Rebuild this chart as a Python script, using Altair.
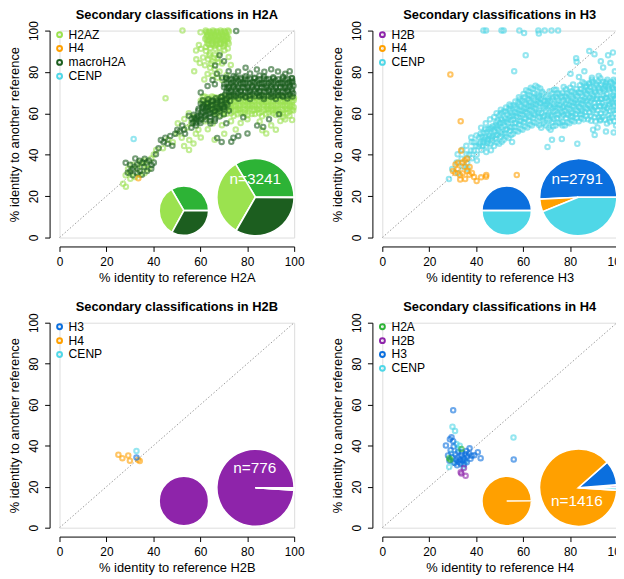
import math
import altair as alt
import pandas as pd

FONT = "Liberation Sans"

COL = {
    "H2A": "#2db336",
    "H2AZ": "#9be24f",
    "macroH2A": "#1c5e1f",
    "H2B": "#8e24aa",
    "H3": "#0b6fde",
    "H4": "#ffa000",
    "CENP": "#4fd7e7",
}

PANELS = ["H2A", "H3", "H2B", "H4"]
LEGEND_ORDER = {
    "H2A": ["H2AZ", "H4", "macroH2A", "CENP"],
    "H3": ["H2B", "H4", "CENP"],
    "H2B": ["H3", "H4", "CENP"],
    "H4": ["H2A", "H2B", "H3", "CENP"],
}
N_TOTAL = {"H2A": 3241, "H3": 2791, "H2B": 776, "H4": 1416}
N_LABEL_POS = {"H2A": (83.4, 28.2), "H3": (83.1, 28.5), "H2B": (83.2, 29.2), "H4": (82.9, 12.8)}
PIE_SMALL_CENTER = (53.0, 13.0)
PIE_BIG_CENTER = (83.5, 19.5)
TICKS = [0, 20, 40, 60, 80, 100]

# ---- H2A panel points ----
H2A_H2AZ = [
    (62.3,100),(63.8,99.6),(65.4,100),(67.1,99.7),(68.6,100),(70.2,99.8),(71.8,100),
    (62.9,98.1),(64.6,97.8),(66.3,98.4),(67.9,97.6),(69.5,98.2),(71.0,97.4),
    (62.1,96.0),(63.7,95.6),(65.5,96.3),(67.2,95.4),(68.8,96.1),(70.4,95.2),
    (63.0,93.8),(64.8,93.2),(66.6,94.0),(68.3,93.5),(70.0,93.9),(71.6,94.6),
    (63.1,99.0),(65.0,98.9),(66.9,99.1),(68.9,98.8),(70.8,99.2),(62.6,97.0),(64.4,96.8),
    (66.0,97.1),(67.7,96.9),(69.3,97.0),(71.2,96.6),(63.4,95.0),(65.1,94.8),(66.9,95.1),
    (68.6,94.7),(70.3,95.0),(72.0,96.2),(62.4,92.1),(64.3,91.6),(66.1,92.5),(68.1,91.8),
    (69.9,92.3),(71.7,91.4),
    (62.5,99.3),(64.2,99.1),(65.8,99.4),(67.5,99.0),(69.1,99.3),(70.7,98.9),(72.2,99.5),
    (63.3,97.5),(64.9,97.2),(66.6,97.6),(68.2,97.3),(69.9,97.7),(71.5,97.1),(62.8,95.3),
    (64.5,95.9),(66.2,95.5),(67.9,95.8),(69.6,95.4),(71.3,95.9),(63.6,93.1),(65.3,93.6),
    (67.0,93.2),(68.7,93.7),(70.4,93.3),(72.1,93.8),
    (52.4,100),(60.1,99.2),
    (58.2,90.4),(60.3,91.2),(62.4,90.1),(64.1,88.9),(66.2,88.3),(68.4,89.2),(70.3,90.5),
    (61.2,87.0),(63.3,86.1),(65.2,85.2),(67.4,86.4),(69.3,84.1),(72.1,87.2),
    (59.8,84.3),(62.0,83.2),(64.2,82.0),(66.1,81.3),(68.2,80.2),(73.0,83.4),
    (63.1,79.0),(65.2,78.3),(67.3,77.2),(69.4,76.1),(71.2,78.4),(57.4,80.3),(58.3,86.1),
    (59.4,93.0),(66.4,91.2),(61.7,76.4),(63.8,88.0),(65.9,86.9),(67.7,84.8),(64.6,84.0),
    (61.8,68.2),(65.9,67.8),(70.2,68.4),(74.1,67.6),(78.3,68.3),(82.0,67.9),(86.2,68.5),(90.1,67.7),(94.3,68.2),(98.2,67.8),
    (60.2,66.1),(64.1,65.8),(68.3,66.3),(72.2,65.7),(76.1,66.2),(80.3,65.9),(84.2,66.3),(88.1,65.6),(92.3,66.2),(96.2,65.8),(99.8,66.4),
    (62.3,64.1),(66.2,63.8),(70.1,64.3),(74.3,63.7),(78.2,64.2),(82.1,63.9),(86.3,64.4),(90.2,63.8),(94.1,64.1),(98.3,63.6),
    (64.2,62.0),(68.1,61.7),(72.3,62.2),(76.2,61.8),(80.1,62.3),(84.3,61.9),(88.2,62.1),(92.1,61.6),(96.3,62.2),(99.6,61.4),
    (66.2,60.1),(71.3,59.8),(77.1,60.2),(83.2,59.7),(89.1,60.3),(95.2,59.9),
    (63.9,67.1),(68.1,67.4),(72.2,66.9),(76.1,67.3),(80.2,66.8),(84.1,67.2),(88.2,66.9),(92.1,67.4),(96.2,66.7),(99.9,67.6),
    (62.2,65.0),(66.1,64.7),(70.3,65.2),(74.2,64.8),(78.1,65.1),(82.2,64.6),(86.1,65.2),(90.3,64.8),(94.2,65.1),(98.1,64.7),
    (64.3,63.0),(68.2,62.8),(72.1,63.1),(76.3,62.7),(80.2,63.2),(84.1,62.8),(88.3,63.1),(92.2,62.7),(96.1,63.2),(99.8,63.0),
    (66.1,61.0),(70.2,60.8),(74.1,61.1),(78.3,60.7),(82.2,61.2),(86.1,60.8),(90.3,61.1),(94.2,60.7),(98.1,61.0),
    (68.7,59.0),(74.2,58.7),(80.1,59.1),(86.3,58.6),(92.2,59.2),(98.0,58.9),
    (61.1,68.0),(63.1,67.7),(65.0,68.1),(67.1,67.6),(69.0,68.0),(71.1,67.7),(73.0,68.1),(75.1,67.6),(77.0,68.0),(79.1,67.7),
    (81.0,68.1),(83.1,67.6),(85.0,68.0),(87.1,67.7),(89.0,68.1),(91.1,67.6),(93.0,68.0),(95.1,67.7),(97.0,68.1),(99.1,67.6),
    (61.0,66.0),(63.1,65.7),(65.0,66.1),(67.1,65.6),(69.0,66.0),(71.1,65.7),(73.0,66.1),(75.1,65.6),(77.0,66.0),(79.1,65.7),
    (81.0,66.1),(83.1,65.6),(85.0,66.0),(87.1,65.7),(89.0,66.1),(91.1,65.6),(93.0,66.0),(95.1,65.7),(97.0,66.1),(99.1,65.6),
    (63.1,64.0),(65.0,63.7),(67.1,64.1),(69.0,63.6),(71.1,64.0),(73.0,63.7),(75.1,64.1),(77.0,63.6),(79.1,64.0),(81.0,63.7),
    (83.1,64.1),(85.0,63.6),(87.1,64.0),(89.0,63.7),(91.1,64.1),(93.0,63.6),(95.1,64.0),(97.0,63.7),(99.1,64.1),
    (65.0,62.0),(67.1,61.7),(69.0,62.1),(71.1,61.6),(73.0,62.0),(75.1,61.7),(77.0,62.1),(79.1,61.6),(81.0,62.0),(83.1,61.7),
    (85.0,62.1),(87.1,61.6),(89.0,62.0),(91.1,61.7),(93.0,62.1),(95.1,61.6),(97.0,62.0),(99.1,61.7),
    (67.1,60.0),(70.0,59.6),(73.1,60.1),(76.0,59.6),(79.1,60.0),(82.0,59.7),(85.1,60.1),(88.0,59.6),(91.1,60.0),(94.0,59.7),(97.1,60.1),
    (62.1,56.2),(65.3,55.1),(69.2,54.3),(73.1,56.2),(77.2,55.3),(80.1,57.2),(85.3,56.1),(90.2,54.2),
    (94.1,56.3),(96.2,57.1),(99.1,56.8),(88.1,50.3),(92.2,52.1),(63.2,52.3),(58.1,50.2),(55.3,47.1),
    (60.2,48.3),(66.1,47.2),(70.2,50.1),(75.1,52.2),(95.4,58.3),(86.4,51.8),
    (50.2,50.3),(52.1,48.2),(54.2,53.1),(56.1,55.2),(48.3,46.1),(46.2,47.3),(44.1,43.2),(53.1,44.2),
    (55.2,42.3),(57.1,45.4),(59.2,52.1),(57.3,58.2),(55.1,60.1),(53.2,57.3),(50.4,55.2),(45.2,67.3),
    (28.2,30.1),(30.1,31.2),(32.2,29.3),(34.1,30.2),(36.2,31.1),(38.1,33.2),(29.2,33.1),(31.1,35.2),
    (33.2,33.3),(35.1,34.2),(37.2,35.1),(30.2,28.4),(27.1,26.0),(28.3,24.6),(40.2,40.1),(36.1,37.2),
    (34.2,36.1),(39.1,38.2),(41.2,42.3),
]
H2A_H4 = [(33.6, 28.6)]
H2A_MACRO = [
    (72.1,76.2),(76.2,75.8),(80.1,76.3),(84.3,75.7),(88.2,76.4),(92.1,75.9),(96.3,76.1),(99.2,75.6),
    (70.2,74.1),(74.1,73.8),(78.3,74.3),(82.2,73.7),(86.1,74.2),(90.3,73.9),(94.2,74.4),(98.1,73.8),
    (71.3,72.1),(75.2,71.8),(79.1,72.2),(83.3,71.7),(87.2,72.3),(91.1,71.9),(95.3,72.2),(99.1,71.8),
    (72.2,70.1),(76.1,69.8),(80.3,70.2),(84.2,69.7),(88.1,70.3),(92.3,69.9),(96.2,70.1),(99.6,69.6),
    (74.3,68.2),(79.2,67.8),(85.1,68.1),(90.2,67.9),(95.1,68.3),(99.3,68.2),
    (74.0,75.1),(78.1,74.9),(82.3,75.2),(86.2,74.8),(90.1,75.3),(94.2,74.9),(98.0,75.2),
    (72.2,73.0),(76.1,72.9),(80.2,73.1),(84.1,72.8),(88.3,73.2),(92.2,72.9),(96.1,73.1),(99.7,73.3),
    (73.1,71.0),(77.2,70.9),(81.1,71.1),(85.3,70.8),(89.2,71.2),(93.1,70.9),(97.2,71.0),
    (74.2,69.0),(78.1,68.9),(82.3,69.1),(86.2,68.8),(90.1,69.2),(94.3,68.9),(98.2,69.1),
    (76.3,67.1),(81.2,66.9),(87.1,67.0),(92.2,66.9),(97.1,67.2),
    (71.0,77.3),(75.1,77.6),(79.2,77.9),(83.1,77.2),(87.2,77.8),(91.1,77.4),(95.2,77.7),(99.0,77.1),
    (71.1,76.8),(73.2,76.6),(75.1,76.9),(77.2,76.5),(79.1,76.8),(81.2,76.6),(83.1,76.9),(85.2,76.5),
    (87.1,76.8),(89.2,76.6),(91.1,76.9),(93.2,76.5),(95.1,76.8),(97.2,76.6),(99.1,76.9),
    (71.2,74.7),(73.1,74.5),(75.2,74.8),(77.1,74.4),(79.2,74.7),(81.1,74.5),(83.2,74.8),(85.1,74.4),
    (87.2,74.7),(89.1,74.5),(91.2,74.8),(93.1,74.4),(95.2,74.7),(97.1,74.5),(99.2,74.8),
    (70.1,72.6),(72.2,72.4),(74.1,72.7),(76.2,72.3),(78.1,72.6),(80.2,72.4),(82.1,72.7),(84.2,72.3),
    (86.1,72.6),(88.2,72.4),(90.1,72.7),(92.2,72.3),(94.1,72.6),(96.2,72.4),(98.1,72.7),
    (71.1,70.6),(73.2,70.4),(75.1,70.7),(77.2,70.3),(79.1,70.6),(81.2,70.4),(83.1,70.7),(85.2,70.3),
    (87.1,70.6),(89.2,70.4),(91.1,70.7),(93.2,70.3),(95.1,70.6),(97.2,70.4),(99.1,70.7),
    (73.1,68.5),(75.2,68.3),(77.1,68.6),(79.2,68.2),(81.1,68.5),(83.2,68.3),(85.1,68.6),(87.2,68.2),
    (89.1,68.5),(91.2,68.3),(93.1,68.6),(95.2,68.2),(97.1,68.5),
    (76.1,80.2),(79.3,82.1),(81.2,79.3),(84.1,81.2),(87.3,80.1),(90.2,81.3),(93.1,80.2),(96.2,79.1),
    (74.2,78.1),(69.3,77.2),(66.2,74.1),(77.3,77.2),(85.2,78.3),(98.1,80.4),
    (57.1,56.2),(59.2,58.1),(61.1,60.3),(63.3,61.1),(65.1,62.2),(67.2,63.1),(69.1,64.3),
    (58.2,54.1),(60.1,55.3),(62.3,57.1),(64.2,58.2),(66.1,59.3),(68.3,61.1),(70.1,62.2),
    (61.3,63.2),(63.1,65.1),(65.3,66.2),(59.1,61.3),(56.2,53.1),(53.1,52.2),(51.2,51.3),(52.3,54.1),
    (67.1,66.2),(71.2,65.1),(69.3,68.2),(72.1,68.3),(64.3,55.1),(66.2,56.3),(60.2,64.8),(62.4,62.7),
    (58.3,57.2),(60.2,59.1),(62.1,61.3),(64.3,60.1),(66.2,61.2),(68.1,62.3),(70.3,63.2),(57.2,59.3),
    (59.3,62.2),(61.2,64.1),(63.3,63.2),(65.2,64.1),(67.3,65.2),(69.2,66.1),(71.3,67.2),(62.2,59.0),
    (64.2,56.3),(66.3,57.4),(68.2,58.5),(70.1,59.6),(72.2,61.3),(60.3,57.2),(58.1,55.3),(56.3,57.4),
    (55.1,58.8),(63.4,66.8),(61.1,66.3),
    (58.7,58.6),(60.6,60.5),(62.7,62.2),(64.6,63.6),(66.7,64.6),(68.6,65.6),(70.7,66.4),(59.6,56.3),
    (61.7,58.2),(63.6,59.6),(65.7,60.7),(67.6,62.1),(69.7,63.0),(71.6,64.2),(72.7,66.0),(57.6,57.9),
    (56.7,55.4),(60.8,62.9),(62.9,64.5),(64.7,65.8),(66.6,67.3),(68.8,67.9),(70.6,69.1),
    (45.1,48.2),(47.2,49.1),(48.1,44.3),(50.2,52.1),(44.3,46.2),(46.1,45.3),(42.2,43.1),(41.1,40.2),
    (49.3,50.1),(43.2,47.1),(53.5,50.2),
    (74.1,48.2),(76.2,49.1),(73.2,46.3),(71.1,55.2),(78.3,58.1),(84.2,54.1),(86.8,53.4),(67.2,48.1),
    (69.1,46.2),(80.1,50.3),(89.3,57.2),(93.5,59.6),
    (72.1,80.3),(65.2,76.1),(67.1,79.2),(66.3,83.1),(70.1,85.2),(68.2,88.1),(75.3,99.8),(63.1,73.2),(60.2,70.1),
    (28.2,36.1),(30.1,35.2),(31.2,33.1),(32.3,38.2),(33.1,35.3),(34.2,32.1),(35.3,36.2),(36.1,34.1),
    (37.2,36.3),(38.1,37.2),(39.3,35.1),(40.2,36.2),(29.1,31.3),(31.3,30.1),(33.2,31.2),(35.1,30.3),
    (37.3,32.1),(39.1,33.3),(30.2,32.2),(34.1,37.1),(32.1,34.2),(36.3,38.1),
]
H2A_CENP = [(31.6, 47.6)]

# ---- H3 panel points ----
H3_H2B = []
H3_H4 = [
    (29.0,78.8),(33.4,56.2),(33.6,42.0),(30.1,32.1),(31.2,35.3),(32.1,33.0),(33.1,30.2),(34.2,31.1),
    (35.1,34.2),(36.2,32.1),(37.1,30.3),(38.2,31.2),(39.1,29.2),(40.2,27.3),(42.1,29.1),(44.2,29.4),
    (44.3,30.2),(33.2,28.1),(35.3,28.3),(36.1,38.2),(34.2,36.3),(32.3,36.1),(57.3,30.2),(37.2,34.1),
    (35.2,37.3),(31.1,31.2),
]
H3_CENP = [
    (43.1,100),(44.2,100),(50.8,100),(51.7,100),(58.4,100),(60.4,98.8),(66.5,100),(66.7,98.6),
    (69.2,100),(72.1,100),(74.9,100),
    (61.1,88.1),(56.2,80.4),(82.6,86.6),(82.8,84.9),(88.2,90.1),(90.4,88.6),(93.1,85.2),(96.2,88.1),
    (98.3,89.4),(97.2,84.3),(94.1,82.2),(92.2,78.1),(89.3,77.2),(86.1,80.3),(83.8,77.6),(80.2,79.1),
    (95.3,75.2),(99.1,80.3),(88.2,74.1),(70.4,43.8),(83.1,45.3),(76.8,54.2),(90.5,49.6),(95.3,51.2),
    (98.6,50.8),(76.5,47.6),(72.3,47.2),
    (29.8,33.1),(28.4,28.3),(31.7,36.2),(32.3,31.1),(32.1,40.2),(33.8,38.1),(34.2,34.3),(34.1,42.4),
    (35.9,40.2),(36.2,36.1),(35.8,44.3),(36.3,33.2),(37.8,42.1),(38.2,38.3),(38.1,46.2),(37.9,48.3),
    (39.9,44.2),(40.2,40.1),(40.1,49.3),(40.3,37.2),(41.8,46.1),(42.2,42.3),(41.9,50.2),(42.1,53.1),
    (43.8,48.2),(44.2,44.1),(43.9,52.3),(44.1,55.2),(44.3,41.3),(45.8,49.1),(46.2,45.3),(46.1,53.2),
    (45.9,57.1),(46.3,42.2),
    (37.0,40.0),(39.0,42.0),(41.0,44.0),(43.0,46.0),(45.0,47.5),(47.0,49.0),(39.1,46.1),(41.2,48.4),
    (43.1,50.6),(45.2,52.4),(47.1,53.8),(42.8,44.2),(44.9,45.6),(46.8,46.9),
    (47.6,44.2),(48.3,47.8),(47.9,51.1),(48.4,54.3),(47.7,58.2),
    (49.8,45.3),(50.4,48.7),(49.6,52.2),(50.3,55.4),(49.9,59.1),(50.5,61.8),
    (51.7,47.2),(52.3,50.3),(51.9,54.2),(52.4,57.6),(51.6,60.9),
    (53.8,48.1),(54.4,51.6),(53.7,55.2),(54.3,58.4),(53.9,62.2),(54.2,64.3),
    (55.7,50.2),(56.3,53.4),(55.8,57.1),(56.4,60.6),(55.9,63.9),
    (57.8,51.2),(58.3,54.6),(57.6,58.1),(58.4,61.4),(57.9,65.2),(58.2,67.8),
    (59.7,52.1),(60.3,55.6),(59.8,59.2),(60.4,62.4),(59.6,66.1),(60.2,69.4),
    (61.8,53.2),(62.4,56.4),(61.7,60.1),(62.3,63.6),(61.9,67.2),(62.2,70.6),
    (63.7,54.1),(64.3,57.6),(63.8,61.2),(64.4,64.4),(63.6,68.1),(64.1,71.8),
    (65.8,55.2),(66.4,58.4),(65.7,62.1),(66.3,65.6),(65.9,69.2),(66.2,72.6),
    (67.7,53.1),(68.3,56.6),(67.8,60.2),(68.4,63.4),(67.6,67.1),(68.1,70.4),
    (69.8,54.2),(70.4,57.4),(69.7,61.1),(70.3,64.6),(69.9,68.2),
    (71.7,52.1),(72.3,55.6),(71.8,59.2),(72.4,62.4),(71.6,66.1),(72.2,69.6),
    (73.8,54.1),(74.4,57.6),(73.7,61.2),(74.3,64.4),(73.9,68.1),(74.1,71.4),
    (75.7,55.2),(76.3,58.4),(75.8,62.1),(76.4,65.6),(75.6,69.2),
    (77.8,54.1),(78.4,57.6),(77.7,61.2),(78.3,64.4),(77.9,68.1),(78.2,71.6),
    (79.7,55.2),(80.3,58.4),(79.8,62.1),(80.4,65.6),(79.6,69.2),(80.1,72.4),
    (81.8,56.1),(82.4,59.6),(81.7,63.2),(82.3,66.4),(81.9,70.1),
    (83.7,56.2),(84.3,59.4),(83.8,63.1),(84.4,66.6),(83.6,70.2),(84.2,73.6),
    (85.8,57.1),(86.4,60.6),(85.7,64.2),(86.3,67.4),(85.9,71.1),(86.1,74.4),
    (87.7,57.2),(88.3,60.4),(87.8,64.1),(88.4,67.6),(87.6,71.2),(88.2,74.6),
    (89.8,52.1),(90.4,58.2),(89.7,61.6),(90.3,65.1),(89.9,68.4),(90.2,72.1),(89.6,75.2),
    (91.7,53.2),(92.3,58.1),(91.8,61.4),(92.4,65.2),(91.6,68.6),(92.2,72.2),(91.9,75.4),
    (93.8,58.2),(94.4,61.6),(93.7,65.1),(94.3,68.4),(93.9,72.1),(94.1,75.2),
    (95.7,55.1),(96.3,59.2),(95.8,62.6),(96.4,66.1),(95.6,69.4),(96.2,73.1),(95.9,76.2),
    (97.8,58.1),(98.4,61.4),(97.7,65.2),(98.3,68.6),(97.9,72.2),(98.1,74.6),
    (99.6,54.2),(100.0,58.1),(99.7,61.6),(100.0,65.1),(99.8,68.4),(100.0,72.2),
    (48.9,46.0),(49.1,49.5),(48.8,53.0),(49.2,56.6),(48.7,60.1),
    (50.9,46.3),(51.2,49.9),(50.8,53.3),(51.1,56.8),(50.7,60.2),
    (52.8,48.8),(53.1,52.3),(52.9,55.9),(53.2,59.4),(52.7,62.8),
    (54.9,49.6),(55.2,53.1),(54.8,56.7),(55.1,60.2),(54.7,63.6),(55.3,46.2),
    (56.8,51.6),(57.1,55.1),(56.9,58.7),(57.2,62.2),(56.7,65.7),
    (58.9,52.6),(59.2,56.2),(58.8,59.7),(59.1,63.3),(58.7,66.8),
    (60.8,53.8),(61.1,57.3),(60.9,60.8),(61.2,64.4),(60.7,67.9),(61.3,71.2),
    (62.9,54.6),(63.2,58.2),(62.8,61.7),(63.1,65.3),(62.7,68.8),(63.3,72.4),
    (64.8,55.7),(65.1,59.2),(64.9,62.8),(65.2,66.3),(64.7,69.8),(65.3,73.4),
    (66.9,54.3),(67.2,57.9),(66.8,61.4),(67.1,64.9),(66.7,68.5),(67.3,72.0),
    (68.8,55.4),(69.1,58.9),(68.9,62.5),(69.2,66.0),(68.7,69.5),
    (70.9,53.1),(71.2,56.6),(70.8,60.2),(71.1,63.7),(70.7,67.2),(71.3,70.7),
    (72.8,53.8),(73.1,57.3),(72.9,60.9),(73.2,64.4),(72.7,67.9),(73.3,71.4),
    (74.9,55.6),(75.2,59.2),(74.8,62.7),(75.1,66.2),(74.7,69.8),
    (76.8,55.8),(77.1,59.3),(76.9,62.9),(77.2,66.4),(76.7,69.9),(77.3,72.8),
    (78.9,55.7),(79.2,59.2),(78.8,62.8),(79.1,66.3),(78.7,69.8),
    (80.8,56.6),(81.1,60.1),(80.9,63.6),(81.2,67.2),(80.7,70.7),(81.3,73.9),
    (82.9,57.6),(83.2,61.1),(82.8,64.7),(83.1,68.2),(82.7,71.7),
    (84.8,57.7),(85.1,61.2),(84.9,64.8),(85.2,68.3),(84.7,71.8),(85.3,75.1),
    (86.9,58.7),(87.2,62.2),(86.8,65.8),(87.1,69.3),(86.7,72.8),
    (88.8,58.8),(89.1,62.3),(88.9,65.9),(89.2,69.4),(88.7,72.9),(89.3,76.2),
    (90.9,56.1),(91.2,59.8),(90.8,63.3),(91.1,66.8),(90.7,70.3),(91.3,73.8),
    (92.8,56.6),(93.1,59.9),(92.9,63.4),(93.2,66.9),(92.7,70.4),(93.3,73.9),(92.9,77.0),
    (94.9,56.9),(95.2,60.4),(94.8,63.9),(95.1,67.4),(94.7,70.9),(95.3,74.4),
    (96.8,57.6),(97.1,61.1),(96.9,64.6),(97.2,68.1),(96.7,71.6),(97.3,75.1),
    (98.9,56.2),(99.2,59.9),(98.8,63.4),(99.1,66.9),(98.7,70.4),(99.3,73.6),(98.6,76.3),
    (41.5,45.2),(43.5,47.3),(45.5,49.8),(47.5,51.9),(49.5,54.0),(51.5,55.6),(53.5,57.2),(55.5,58.9),
    (57.5,60.1),(59.5,61.3),(61.5,62.5),(63.5,63.6),(65.5,64.3),(67.5,64.9),(69.5,63.8),(71.5,63.1),
    (73.5,63.4),(75.5,64.1),(77.5,63.5),(79.5,64.2),(81.5,65.1),(83.5,65.4),(85.5,66.2),(87.5,66.5),
    (89.5,67.0),(91.5,67.3),(93.5,67.1),(95.5,67.6),(97.5,67.2),(99.5,67.4),
    (42.5,48.7),(44.5,50.9),(46.5,52.6),(48.5,55.7),(50.5,57.4),(52.5,60.8),(54.5,61.2),(56.5,63.0),
    (58.5,64.2),(60.5,65.1),(62.5,66.4),(64.5,67.3),(66.5,67.8),(68.5,66.2),(70.5,65.9),(72.5,67.0),
    (74.5,67.3),(76.5,68.1),(78.5,67.2),(80.5,68.3),(82.5,69.1),(84.5,69.8),(86.5,70.2),(88.5,70.6),
    (90.5,71.2),(92.5,71.3),(94.5,71.8),(96.5,72.3),(98.5,71.5),
    (44.5,46.8),(46.5,48.2),(48.5,49.4),(50.5,50.9),(52.5,52.1),(54.5,53.4),(56.5,55.3),(58.5,56.4),
    (60.5,57.8),(62.5,59.0),(64.5,60.1),(66.5,60.3),(68.5,58.2),(70.5,59.0),(72.5,58.4),(74.5,59.8),
    (76.5,60.7),(78.5,59.9),(80.5,60.8),(82.5,61.9),(84.5,62.3),(86.5,63.0),(88.5,63.2),(90.5,62.8),
    (92.5,63.6),(94.5,63.1),(96.5,63.8),(98.5,64.3),
    (87.0,73.3),(91.0,74.6),(95.0,73.2),(99.0,75.4),(89.0,56.4),(93.0,57.0),(97.0,56.1),(85.0,59.8),(81.0,58.6),
]

# ---- H2B panel points ----
H2B_H3 = [(32.8, 34.2)]
H2B_H4 = [(25.1,35.6),(26.8,33.9),(29.3,35.2),(30.0,32.7),(33.5,33.2),(34.2,32.5)]
H2B_CENP = [(32.8, 37.4)]

# ---- H4 panel points ----
H4_H2A = [(33.7,38.4),(28.5,33.9),(29.0,33.2)]
H4_H2B = [(33.7,26.4),(35.5,25.3),(34.8,29.1),(33.4,27.0)]
H4_H3 = [
    (30.2,57.3),(28.8,43.2),(29.5,44.1),(30.2,42.2),(27.1,40.1),(28.0,35.2),(32.3,37.1),(37.2,38.7),
    (40.7,36.8),(41.9,33.9),(56.0,33.3),(29.1,37.8),(30.4,39.6),(31.2,35.8),(32.1,34.2),(33.0,33.1),
    (33.8,35.4),(34.6,34.0),(35.4,35.9),(36.2,34.8),(37.0,36.2),(38.1,35.1),(32.5,32.0),(33.4,31.2),
    (34.2,32.8),(35.1,33.2),(36.0,31.9),(31.6,33.0),(30.8,31.5),(33.9,36.8),(35.8,37.4),(37.6,33.6),
    (39.2,35.3),(31.9,30.4),(34.8,30.8),(29.6,34.4),(28.6,32.6),
]
H4_CENP = [
    (29.9,49.3),(31.0,47.2),(55.9,44.0),(31.6,40.8),(33.0,40.0),(28.5,29.6),(30.2,32.0),(35.3,32.3),
    (32.4,38.5),(29.4,36.2),(34.5,29.5),
]

POINTS = {
    "H2A": [("H2AZ", H2A_H2AZ), ("macroH2A", H2A_MACRO), ("H4", H2A_H4), ("CENP", H2A_CENP)],
    "H3": [("CENP", H3_CENP), ("H4", H3_H4), ("H2B", H3_H2B)],
    "H2B": [("H4", H2B_H4), ("CENP", H2B_CENP), ("H3", H2B_H3)],
    "H4": [("CENP", H4_CENP), ("H3", H4_H3), ("H2B", H4_H2B), ("H2A", H4_H2A)],
}

# pie fractions, counter-clockwise from 3 o'clock
PIE_SMALL = {
    "H2A": [("H2A", 0.334), ("H2AZ", 0.336), ("macroH2A", 0.330)],
    "H3": [("H3", 0.500), ("CENP", 0.500)],
    "H2B": [("H2B", 1.000)],
    "H4": [("H3", 0.002), ("H4", 0.998)],
}
PIE_BIG = {
    "H2A": [("H2A", 0.336), ("H2AZ", 0.330), ("H4", 0.001), ("macroH2A", 0.332), ("CENP", 0.001)],
    "H3": [("H3", 0.508), ("H4", 0.054), ("CENP", 0.438)],
    "H2B": [("H2B", 0.990), ("H3", 0.002), ("H4", 0.006), ("CENP", 0.002)],
    "H4": [("H2A", 0.004), ("H2B", 0.008), ("H3", 0.103), ("H4", 0.875), ("CENP", 0.010)],
}

DIAG = pd.DataFrame({"x": [0, 100], "y": [0, 100]})


def make_panel(p, height):
    xs = alt.Scale(domain=[0, 100], nice=False, zero=False)
    ys = alt.Scale(domain=[0, 100], nice=False, zero=False)
    common = dict(values=TICKS, grid=False, domainColor="black", tickColor="black",
                  tickSize=5, labelFlush=False, labelOverlap=False, labelFont=FONT,
                  titleFont=FONT, labelFontSize=12, titleFontSize=13,
                  titleFontWeight="normal", labelColor="black", titleColor="black")
    xax = alt.Axis(title=f"% identity to reference {p}", offset=9, labelPadding=5,
                   titlePadding=4, **common)
    yax = alt.Axis(title="% identity to another reference", offset=10, labelAngle=270,
                   labelAlign="center", labelBaseline="bottom", labelPadding=4,
                   titlePadding=6, **common)

    def X(f):
        return alt.X(f, type="quantitative", scale=xs, axis=xax)

    def Y(f):
        return alt.Y(f, type="quantitative", scale=ys, axis=yax)

    diag = alt.Chart(DIAG).mark_line(color="#9a9a9a", strokeWidth=1,
                                      strokeDash=[1.5, 2]).encode(x=X("x"), y=Y("y"))

    rows = []
    for cat, pts in POINTS[p]:
        for (x, y) in pts:
            rows.append({"x": x, "y": y, "cat": cat})
    pdf = pd.DataFrame(rows, columns=["x", "y", "cat"])
    order = LEGEND_ORDER[p]
    pts = alt.Chart(pdf).mark_point(filled=False, size=20, strokeWidth=2.1,
                                    opacity=0.6).encode(
        x=X("x"), y=Y("y"),
        stroke=alt.Stroke("cat:N",
                          scale=alt.Scale(domain=order, range=[COL[c] for c in order]),
                          legend=alt.Legend(title=None, orient="none", legendX=-6,
                                            legendY=-2, labelFont=FONT, labelFontSize=12.2,
                                            labelColor="black", symbolType="circle",
                                            symbolSize=24, symbolStrokeWidth=2,
                                            symbolOpacity=1, rowPadding=0,
                                            labelOffset=3, padding=0)))

    theta_scale = alt.Scale(domain=[0, 1], range=[math.pi / 2, math.pi / 2 - 2 * math.pi])

    def pie(parts, center, radius):
        df = pd.DataFrame({
            "cat": [c for c, _ in parts],
            "frac": [v for _, v in parts],
            "ord": list(range(len(parts))),
            "color": [COL[c] for c, _ in parts],
            "cx": [center[0]] * len(parts),
            "cy": [center[1]] * len(parts),
        })
        return alt.Chart(df).mark_arc(outerRadius=radius, stroke="white",
                                      strokeWidth=1.6).encode(
            x=X("cx"), y=Y("cy"),
            theta=alt.Theta("frac:Q", stack="normalize", scale=theta_scale),
            fill=alt.Fill("color:N", scale=None),
            order=alt.Order("ord:Q"))

    small = pie(PIE_SMALL[p], PIE_SMALL_CENTER, 25)
    big = pie(PIE_BIG[p], PIE_BIG_CENTER, 39)

    lx, ly = N_LABEL_POS[p]
    tdf = pd.DataFrame({"x": [lx], "y": [ly], "t": [f"n={N_TOTAL[p]}"]})
    txt = alt.Chart(tdf).mark_text(color="white", fontSize=15.5, font=FONT,
                                   baseline="middle").encode(x=X("x"), y=Y("y"), text="t:N")

    return alt.layer(diag, pts, small, big, txt).properties(
        width=237, height=height,
        title=alt.TitleParams(f"Secondary classifications in {p}", font=FONT,
                              fontSize=13, fontWeight="bold", color="black",
                              offset=-1, anchor="middle", frame="group"))


panels = [make_panel(p, 209 if i < 2 else 207) for i, p in enumerate(PANELS)]

chart = alt.concat(*panels, columns=2, spacing={"row": 15, "column": 26}).resolve_scale(
    stroke="independent", x="independent", y="independent", theta="independent"
).resolve_legend(stroke="independent").properties(
    padding={"left": 0, "top": -3, "right": -12, "bottom": 0}
).configure_view(stroke=None).configure(font=FONT)

chart.save("out.html", embed_options={"renderer": "svg", "actions": False})
